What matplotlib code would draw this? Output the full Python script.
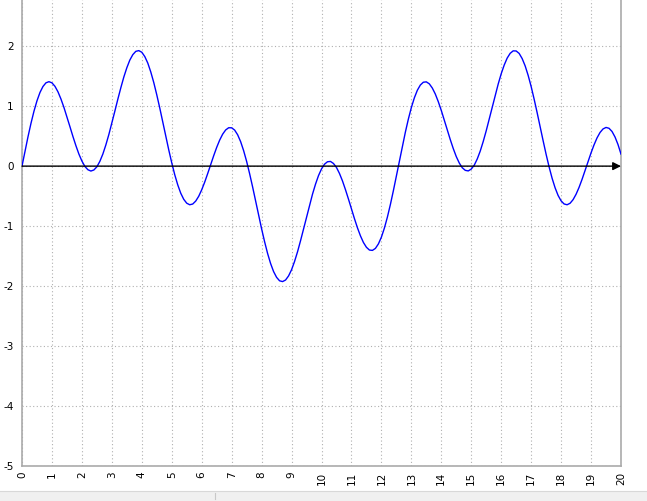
import matplotlib
matplotlib.use("Agg")
import matplotlib.pyplot as plt
from matplotlib.patches import Rectangle
from matplotlib.lines import Line2D

# curve samples, every 0.1 on x
x_vals = [round(0.1 * i, 1) for i in range(201)]
y_vals = [
    0.000, 0.249, 0.489, 0.714, 0.916, 1.089, 1.228, 1.328, 1.389, 1.408,
    1.389, 1.331, 1.240, 1.120, 0.979, 0.822, 0.659, 0.495, 0.341, 0.201,
    0.085, -0.005, -0.060, -0.082, -0.064, -0.011, 0.080, 0.202, 0.354, 0.527,
    0.718, 0.916, 1.116, 1.307, 1.486, 1.640, 1.768, 1.859, 1.914, 1.926,
    1.899, 1.827, 1.718, 1.570, 1.393, 1.189, 0.969, 0.735, 0.501, 0.271,
    0.055, -0.143, -0.312, -0.451, -0.553, -0.618, -0.644, -0.632, -0.583, -0.503,
    -0.395, -0.267, -0.124, 0.025, 0.173, 0.312, 0.434, 0.533, 0.603, 0.640,
    0.639, 0.601, 0.523, 0.408, 0.258, 0.079, -0.126, -0.347, -0.580, -0.814,
    -1.045, -1.260, -1.456, -1.623, -1.758, -1.854, -1.912, -1.925, -1.899, -1.831,
    -1.728, -1.590, -1.428, -1.244, -1.049, -0.848, -0.653, -0.467, -0.301, -0.158,
    -0.047, 0.032, 0.073, 0.078, 0.044, -0.022, -0.122, -0.246, -0.392, -0.549,
    -0.714, -0.875, -1.028, -1.162, -1.273, -1.353, -1.399, -1.405, -1.372, -1.297,
    -1.184, -1.033, -0.850, -0.640, -0.409, -0.165, 0.084, 0.330, 0.566, 0.784,
    0.977, 1.138, 1.265, 1.352, 1.399, 1.405, 1.372, 1.302, 1.202, 1.074,
    0.928, 0.767, 0.604, 0.442, 0.292, 0.159, 0.052, -0.027, -0.070, -0.080,
    -0.049, 0.016, 0.119, 0.251, 0.411, 0.590, 0.785, 0.983, 1.182, 1.369,
    1.540, 1.685, 1.802, 1.881, 1.922, 1.920, 1.879, 1.793, 1.671, 1.513,
    1.327, 1.116, 0.891, 0.656, 0.423, 0.196, -0.014, -0.203, -0.362, -0.489,
    -0.579, -0.631, -0.644, -0.619, -0.559, -0.469, -0.354, -0.220, -0.074, 0.076,
    0.221, 0.355, 0.471, 0.561, 0.620, 0.645, 0.631, 0.578, 0.486, 0.360,
    0.201,
]
x_ticks = list(range(0, 21))
y_ticks = list(range(-5, 3))

fig = plt.figure(figsize=(6.47, 5.01), dpi=100)
W, H = 647, 501
ax = fig.add_axes([22 / W, 35 / H, (621 - 22) / W, 1 - 35 / H])

ax.plot(x_vals, y_vals, color="#0000ff", lw=1.0, zorder=3)

# x axis arrow along y = 0
ax.annotate("", xy=(20, 0), xytext=(0, 0),
            arrowprops=dict(arrowstyle="-|>", color="black", lw=1.0,
                            mutation_scale=12, shrinkA=0, shrinkB=0),
            zorder=4)

ax.set_xlim(0, 20)
ax.set_ylim(-5, 2.77)
ax.set_xticks(x_ticks)
ax.set_yticks(y_ticks)
ax.set_xticklabels([str(t) for t in x_ticks], rotation=90)
ax.set_yticklabels([str(t) for t in y_ticks])
ax.tick_params(axis="both", length=0, labelsize=7.5, colors="black")
ax.tick_params(axis="x", pad=4)
ax.tick_params(axis="y", pad=6)

ax.grid(True, color="#b0b0b0", lw=0.8, linestyle=(0, (1, 2.2)))
ax.set_axisbelow(True)

for side in ["left", "bottom", "right"]:
    ax.spines[side].set_color("#aaaaaa")
    ax.spines[side].set_linewidth(1.2)
ax.spines["top"].set_visible(False)

# grey strip at the very bottom
fig.patches.append(Rectangle((0, 0), 1, 10 / H, transform=fig.transFigure,
                             facecolor="#f0f0f0", edgecolor="none"))
fig.lines.append(Line2D([0, 1], [10.5 / H, 10.5 / H], transform=fig.transFigure,
                        color="#d8d8d8", lw=0.8))
fig.lines.append(Line2D([215 / W, 215 / W], [2 / H, 8 / H], transform=fig.transFigure,
                        color="#c8c8c8", lw=0.8))

fig.savefig("out.png", dpi=100)
